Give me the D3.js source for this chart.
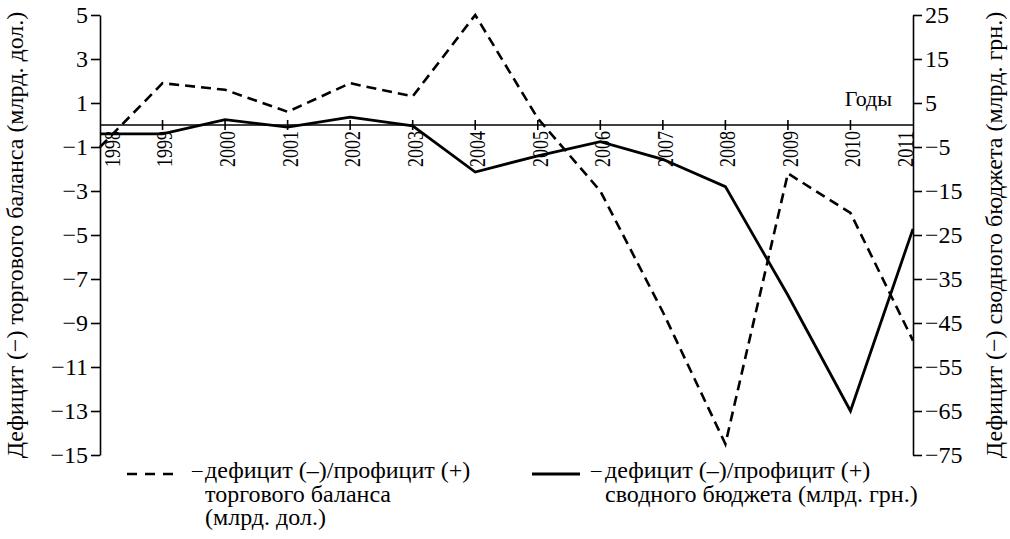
<!DOCTYPE html>
<html>
<head>
    <meta charset="utf-8">
    <title>Дефицит торгового баланса и сводного бюджета</title>
    <script src="https://d3js.org/d3.v7.min.js"></script>
    <style>
        body { margin: 0; background: #fff; }
    </style>
</head>
<body>
    <script>
        const years = ["1998", "1999", "2000", "2001", "2002", "2003", "2004",
                       "2005", "2006", "2007", "2008", "2009", "2010", "2011"];
        // торговый баланс, млрд. дол. (левая ось)
        const tradeBalance = [-1.0, 1.9, 1.6, 0.6, 1.9, 1.3, 5.0,
                              0.3, -3.0, -8.5, -14.5, -2.2, -4.0, -9.8];
        // сводный бюджет, млрд. грн. (правая ось)
        const budgetBalance = [-2.0, -2.0, 1.2, -0.5, 1.8, -0.2, -10.7,
                               -7.0, -3.8, -7.8, -14.0, -38.7, -65.0, -23.6];
        const leftTicks = [5, 3, 1, -1, -3, -5, -7, -9, -11, -13, -15];
        const rightTicks = [25, 15, 5, -5, -15, -25, -35, -45, -55, -65, -75];

        const leftTitle = "Дефицит (−) торгового баланса (млрд. дол.)";
        const rightTitle = "Дефицит (−) сводного бюджета (млрд. грн.)";
        const legendTrade = ["дефицит (–)/профицит (+)", "торгового баланса", "(млрд. дол.)"];
        const legendBudget = ["дефицит (–)/профицит (+)", "сводного бюджета (млрд. грн.)"];

        const width = 1010;
        const height = 539;
        const margin = {top: 15, right: 97, bottom: 84, left: 100};
        const fs = 24;
        const font = "Liberation Serif";

        const svg = d3.select("body")
            .append("svg")
            .attr("width", width)
            .attr("height", height);

        const x = d3.scalePoint()
            .domain(years)
            .range([margin.left, width - margin.right]);

        const yLeft = d3.scaleLinear()
            .domain([-15, 5])
            .range([height - margin.bottom, margin.top]);

        const yRight = d3.scaleLinear()
            .domain([-75, 25])
            .range([height - margin.bottom, margin.top]);

        // left axis
        svg.append("g")
            .attr("transform", `translate(${margin.left},0)`)
            .call(d3.axisLeft(yLeft).tickValues(leftTicks).tickSize(9).tickPadding(3)
                .tickSizeOuter(0).tickFormat(d3.format("d")));

        // right axis
        svg.append("g")
            .attr("transform", `translate(${width - margin.right},0)`)
            .call(d3.axisRight(yRight).tickValues(rightTicks).tickSize(9).tickPadding(3)
                .tickSizeOuter(0).tickFormat(d3.format("d")));

        svg.selectAll(".tick text").attr("font-size", fs);
        svg.selectAll(".domain, .tick line")
            .attr("stroke", "#000")
            .attr("stroke-width", 1.6);

        // zero line with year ticks
        const y0 = yLeft(0);
        svg.append("line")
            .attr("x1", margin.left).attr("x2", width - margin.right)
            .attr("y1", y0).attr("y2", y0)
            .attr("stroke", "#000").attr("stroke-width", 1.6);

        svg.append("g")
            .selectAll("line")
            .data(years.slice(1, -1))
            .join("line")
            .attr("x1", d => x(d)).attr("x2", d => x(d))
            .attr("y1", y0 - 5).attr("y2", y0 + 5)
            .attr("stroke", "#000").attr("stroke-width", 1.6);

        // year labels, narrow as in the original
        svg.append("g")
            .selectAll("text")
            .data(years)
            .join("text")
            .attr("transform", d => {
                const cx = Math.max(margin.left + 12, Math.min(width - margin.right - 8, x(d) + 2));
                return `translate(${cx},${y0 + 6}) rotate(-90)`;
            })
            .attr("text-anchor", "end")
            .attr("dy", "0.33em")
            .attr("font-size", fs)
            .attr("textLength", 36)
            .attr("lengthAdjust", "spacingAndGlyphs")
            .text(d => d);

        svg.append("text")
            .attr("x", 892)
            .attr("y", y0 - 19)
            .attr("text-anchor", "end")
            .attr("font-size", 22)
            .text("Годы");

        // axis titles
        const midY = (margin.top + height - margin.bottom) / 2;
        svg.append("text")
            .attr("transform", `translate(23,${midY}) rotate(-90)`)
            .attr("text-anchor", "middle")
            .attr("font-size", fs)
            .text(leftTitle);

        svg.append("text")
            .attr("transform", `translate(1002,${midY}) rotate(-90)`)
            .attr("text-anchor", "middle")
            .attr("font-size", fs)
            .text(rightTitle);

        // lines
        const tradeLine = d3.line()
            .x((d, i) => x(years[i]))
            .y(d => yLeft(d));

        const budgetLine = d3.line()
            .x((d, i) => x(years[i]))
            .y(d => yRight(d));

        svg.append("path")
            .datum(tradeBalance)
            .attr("d", tradeLine)
            .attr("fill", "none")
            .attr("stroke", "#000")
            .attr("stroke-width", 2.6)
            .attr("stroke-dasharray", "10,6");

        svg.append("path")
            .datum(budgetBalance)
            .attr("d", budgetLine)
            .attr("fill", "none")
            .attr("stroke", "#000")
            .attr("stroke-width", 2.8);

        // legend
        const legY = 474;
        svg.append("line")
            .attr("x1", 127).attr("x2", 173)
            .attr("y1", legY).attr("y2", legY)
            .attr("stroke", "#000").attr("stroke-width", 2.6)
            .attr("stroke-dasharray", "10,8");

        svg.append("line")
            .attr("x1", 532).attr("x2", 580)
            .attr("y1", legY).attr("y2", legY)
            .attr("stroke", "#000").attr("stroke-width", 2.8);

        function legendText(lines, xDash, x1) {
            svg.append("text")
                .attr("x", xDash).attr("y", 477)
                .attr("font-size", 21)
                .text("–");
            const t = svg.append("text").attr("font-size", fs);
            lines.forEach((s, i) => {
                t.append("tspan")
                    .attr("x", x1)
                    .attr("y", 478 + i * 23.5)
                    .text(s);
            });
        }
        legendText(legendTrade, 192, 205);
        legendText(legendBudget, 591, 605);

        // plain font name on every text, black fill
        svg.selectAll("g").attr("font-family", font);
        svg.selectAll("text")
            .attr("font-family", font)
            .attr("fill", "#000");
    </script>
</body>
</html>
